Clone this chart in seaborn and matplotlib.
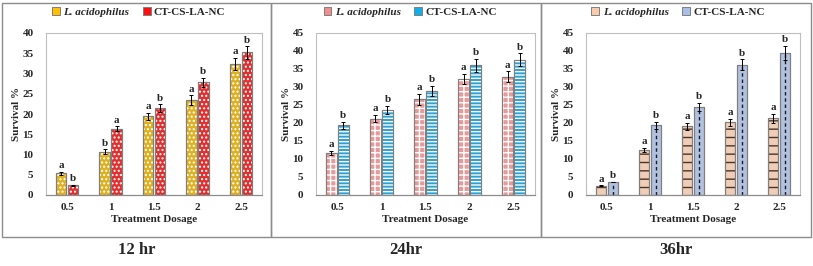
import matplotlib
matplotlib.use("Agg")
import matplotlib.pyplot as plt
from matplotlib.patches import Patch, Rectangle
import numpy as np
import pandas as pd
import seaborn as sns


DOSES = ["0.5", "1", "1.5", "2", "2.5"]
GROUPS = ["L. acidophilus", "CT-CS-LA-NC"]
PANEL_TITLES = ["12 hr", "24hr", "36hr"]
Y_MAX = [40, 45, 45]

# 12 hr
LA_12 = [5.4, 10.7, 19.4, 23.4, 32.4]
NC_12 = [2.4, 16.4, 21.4, 27.8, 35.2]
LA_12_ERR = [0.4, 0.6, 0.9, 1.2, 1.5]
NC_12_ERR = [0.1, 0.6, 1.0, 1.1, 1.5]
LA_12_LET = ["a", "b", "a", "a", "a"]
NC_12_LET = ["b", "a", "b", "b", "b"]

# 24 hr
LA_24 = [11.6, 21.2, 26.6, 32.2, 32.9]
NC_24 = [19.4, 23.6, 28.9, 36.1, 37.6]
LA_24_ERR = [0.6, 1.0, 1.5, 1.5, 1.5]
NC_24_ERR = [1.0, 1.2, 1.5, 1.8, 1.8]
LA_24_LET = ["a", "a", "a", "a", "a"]
NC_24_LET = ["b", "b", "b", "b", "b"]

# 36 hr
LA_36 = [2.6, 12.5, 19.1, 20.2, 21.3]
NC_36 = [3.6, 19.4, 24.4, 36.2, 39.5]
LA_36_ERR = [0.1, 0.6, 1.0, 1.0, 1.2]
NC_36_ERR = [0.1, 1.0, 1.2, 1.5, 2.0]
LA_36_LET = ["a", "a", "a", "a", "a"]
NC_36_LET = ["b", "b", "b", "b", "b"]

# (face, hatch colour, hatch) per group and panel
STYLES = [
    [("#FFC000", "white", "...."), ("#FF1010", "white", "....")],
    [("#F58C8C", "white", "+++"), ("#12AEEB", "white", "-----")],
    [("#F8CBAD", "#4a3528", "--"), ("#A9BFE6", None, None)],
]

SERIF = ["Liberation Serif", "DejaVu Serif"]
EDGE = "#7f7f7f"
FS = 8


def draw_panel(ax, la, nc, la_err, nc_err, la_let, nc_let, styles, ymax):
    df = pd.DataFrame({
        "dose": DOSES * 2,
        "group": [GROUPS[0]] * 5 + [GROUPS[1]] * 5,
        "survival": la + nc,
    })
    sns.barplot(data=df, x="dose", y="survival", hue="group", order=DOSES,
                hue_order=GROUPS, palette=[s[0] for s in styles],
                width=0.55, gap=0.12, errorbar=None, legend=False,
                edgecolor=EDGE, linewidth=0.8, ax=ax, zorder=2)
    bars = list(ax.patches)
    errs = la_err + nc_err
    lets = la_let + nc_let
    for i, bar in enumerate(bars):
        face, hcol, hatch = styles[i // 5]
        x0, y0 = bar.get_xy()
        w, h = bar.get_width(), bar.get_height()
        cx = x0 + w / 2
        if hatch:
            ov = Rectangle((x0, y0), w, h, facecolor="none", edgecolor=hcol,
                           linewidth=0, hatch=hatch, zorder=2.5)
            ax.add_patch(ov)
            ov.set_clip_path(bar)
        else:
            ax.vlines(cx, 0, h, colors="#1a1a2a", linestyles=(0, (2.5, 2.0)),
                      linewidth=1.0, zorder=2.5)
        ax.add_patch(Rectangle((x0, y0), w, h, facecolor="none", edgecolor=EDGE,
                               linewidth=0.8, zorder=2.6))
        ax.errorbar(cx, h, yerr=errs[i], fmt="none", ecolor="black",
                    elinewidth=0.7, capsize=1.6, capthick=0.7, zorder=3)
        ax.text(cx, h + errs[i] + ymax * 0.01, lets[i], ha="center", va="bottom",
                fontsize=FS, fontweight="bold", family=SERIF)

    ax.set_ylim(0, ymax)
    ax.set_yticks(np.arange(0, ymax + 1, 5))
    ax.set_xlabel("Treatment Dosage", fontsize=FS, fontweight="bold", family=SERIF, labelpad=2)
    ax.set_ylabel("Survival %", fontsize=FS, fontweight="bold", family=SERIF, labelpad=1)
    ax.tick_params(axis="x", length=0, labelsize=FS, pad=6)
    ax.tick_params(axis="y", length=0, labelsize=FS, pad=9)
    for lab in ax.get_xticklabels() + ax.get_yticklabels():
        lab.set_fontweight("bold")
        lab.set_family(SERIF)
    for side in ["top", "right", "left"]:
        ax.spines[side].set_color("#bfbfbf")
        ax.spines[side].set_linewidth(0.8)
    ax.spines["bottom"].set_color("#8c8c8c")
    ax.spines["bottom"].set_linewidth(0.9)
    ax.grid(False)

    handles = [Patch(facecolor=s[0], edgecolor=EDGE, linewidth=0.7) for s in styles]
    leg = ax.legend(handles, GROUPS, loc="lower center", bbox_to_anchor=(0.43, 1.07),
                    ncol=2, frameon=False, handlelength=0.7, handleheight=0.7,
                    handletextpad=0.3, columnspacing=1.2, borderaxespad=0,
                    prop={"family": SERIF, "weight": "bold", "size": FS})
    leg.get_texts()[0].set_fontstyle("italic")


def main():
    sns.set_theme(style="white")
    plt.rcParams["hatch.linewidth"] = 1.0
    fig = plt.figure(figsize=(8.13, 2.66), dpi=100)
    W, H = 813.0, 266.0

    frames = [(2, 271), (271, 541), (541, 811)]
    axes_px = [(46, 262), (316, 535), (586, 800)]
    data = [
        (LA_12, NC_12, LA_12_ERR, NC_12_ERR, LA_12_LET, NC_12_LET),
        (LA_24, NC_24, LA_24_ERR, NC_24_ERR, LA_24_LET, NC_24_LET),
        (LA_36, NC_36, LA_36_ERR, NC_36_ERR, LA_36_LET, NC_36_LET),
    ]
    for k in range(3):
        f0, f1 = frames[k]
        fig.patches.append(Rectangle((f0 / W, (H - 237) / H), (f1 - f0) / W, (237 - 3) / H,
                                     transform=fig.transFigure, facecolor="none",
                                     edgecolor="#8c8c8c", linewidth=1.0))
        a0, a1 = axes_px[k]
        ax = fig.add_axes([a0 / W, (H - 195) / H, (a1 - a0) / W, (195 - 33) / H])
        draw_panel(ax, *data[k], STYLES[k], Y_MAX[k])
        fig.text((f0 + f1) / 2 / W, (H - 250) / H, PANEL_TITLES[k], ha="center",
                 va="center", fontsize=12, fontweight="bold", family=SERIF)

    fig.savefig("out.png", dpi=100)


if __name__ == "__main__":
    main()
